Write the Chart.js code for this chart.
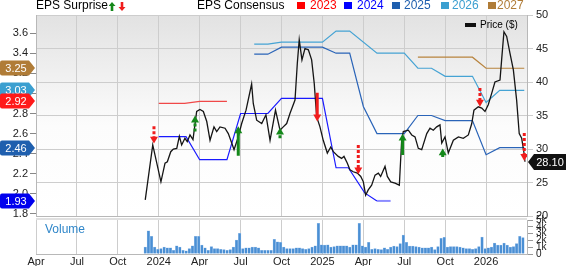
<!DOCTYPE html>
<html lang="en">
<head>
<meta charset="UTF-8">
<title>EPS Surprise &amp; Consensus</title>
<script src="https://cdn.jsdelivr.net/npm/chart.js"></script>
<style>
  body { margin: 0; background: #fff; font-family: "Liberation Sans", Arial, sans-serif; }
  #wrap { position: relative; width: 568px; height: 266px; overflow: hidden; }
  canvas { position: absolute; left: 0; }
  .lg { position: absolute; top: -1px; font-size: 12px; line-height: 12px; white-space: nowrap; }
  .sq { position: absolute; top: 2px; width: 8px; height: 7px; }
</style>
</head>
<body>
<div id="wrap">
  <canvas id="main" width="568" height="226" style="top:0"></canvas>
  <canvas id="vol" width="568" height="55" style="top:211px"></canvas>

  <div class="lg" style="left:36px">EPS Surprise</div>
  <svg style="position:absolute;left:109px;top:2px" width="18" height="9">
    <path d="M3 0 L6.5 4 L4.3 4 L4.3 9 L1.7 9 L1.7 4 L-0.5 4 Z" fill="#14881a"/>
    <path d="M13 9 L16.5 5 L14.3 5 L14.3 0 L11.7 0 L11.7 5 L9.5 5 Z" fill="#f01c1c"/>
  </svg>
  <div class="lg" style="left:197px">EPS Consensus</div>
  <div class="sq" style="left:297px;background:#ff0000"></div><div class="lg" style="left:310px;color:#ff0000">2023</div>
  <div class="sq" style="left:344px;background:#0000ff"></div><div class="lg" style="left:357px;color:#0000ff">2024</div>
  <div class="sq" style="left:392px;background:#1f5fae"></div><div class="lg" style="left:404px;color:#1f5fae">2025</div>
  <div class="sq" style="left:441px;background:#3b9fd0"></div><div class="lg" style="left:452px;color:#3b9fd0">2026</div>
  <div class="sq" style="left:488px;background:#b07c37"></div><div class="lg" style="left:497px;color:#b07c37">2027</div>

  <div style="position:absolute;left:465px;top:23px;width:11px;height:4px;background:#111"></div>
  <div style="position:absolute;left:480px;top:20px;font-size:10px;line-height:10px">Price ($)</div>
  <div style="position:absolute;left:45px;top:223px;font-size:12px;line-height:12px;color:#2f86c9">Volume</div>
</div>

<script>
  // x values are months counted from April 2023 (0 = Apr 2023, 36 = Apr 2026)
  const xTickLabels = ['Apr', 'Jul', 'Oct', '2024', 'Apr', 'Jul', 'Oct', '2025', 'Apr', 'Jul', 'Oct', '2026', ''];
  const epsTicks = [1.8, 2.0, 2.2, 2.4, 2.6, 2.8, 3.0, 3.2, 3.4, 3.6];

  const priceMonth = [8.01, 8.56, 9.16, 9.46, 9.63, 9.88, 10.07, 10.32, 10.51, 10.68, 10.92, 11.09, 11.29, 11.51,
    11.78, 12.02, 12.27, 12.52, 12.76, 13.05, 13.25, 13.49, 13.86, 14.10, 14.35, 14.52, 14.80, 15.08, 15.40,
    15.81, 15.93, 16.18, 16.55, 16.86, 17.16, 17.56, 17.89, 18.13, 18.38, 18.62, 18.99, 19.16, 19.30, 19.50,
    19.72, 19.97, 20.21, 20.40, 20.58, 20.82, 21.06, 21.36, 21.61, 21.80, 22.16, 22.41, 22.58, 22.82, 23.02,
    23.26, 23.56, 23.81, 24.00, 24.17, 24.36, 24.61, 24.86, 25.10, 25.27, 25.59, 25.76, 26.01, 26.32, 26.64,
    26.81, 26.93, 27.30, 27.55, 27.79, 28.03, 28.28, 28.65, 28.89, 29.13, 29.38, 29.62, 29.75, 29.99, 30.23,
    30.60, 30.97, 31.33, 31.70, 31.95, 32.11, 32.43, 32.68, 32.92, 33.16, 33.41, 33.65, 34.02, 34.14, 34.31,
    34.51, 34.75, 35.00, 35.24, 35.43, 35.61, 35.78, 35.85];
  const priceValue = [22.4, 30.6, 25.1, 27.9, 28.1, 29.6, 30.0, 30.1, 31.9, 30.6, 31.6, 31.1, 32.1, 31.4,
    35.6, 35.9, 35.6, 34.1, 31.3, 33.3, 32.6, 33.3, 33.1, 32.3, 30.9, 29.9, 31.6, 33.8, 35.8,
    39.7, 36.8, 34.3, 33.8, 35.1, 31.3, 35.8, 32.8, 33.3, 33.8, 35.3, 37.3, 42.8, 46.3, 43.3,
    45.0, 44.8, 43.3, 39.8, 34.8, 33.3, 31.3, 29.4, 30.3, 29.6, 28.9, 28.6, 28.9, 27.9, 26.9,
    26.6, 26.4, 25.9, 25.1, 23.1, 23.9, 24.6, 26.1, 26.4, 25.9, 27.4, 25.9, 25.1, 24.9, 24.6,
    31.3, 32.6, 32.8, 32.1, 31.8, 30.1, 29.9, 32.3, 33.1, 32.8, 33.3, 33.6, 30.9, 31.8, 29.4,
    31.3, 31.8, 31.6, 32.1, 33.8, 35.8, 36.3, 36.1, 35.6, 36.6, 38.3, 40.0, 40.3, 43.3, 47.5,
    46.8, 44.3, 41.8, 37.3, 32.3, 31.6, 29.4, 28.10];

  const eps2023Month = [9, 10.9, 12, 14];
  const eps2023 = [2.90, 2.90, 2.92, 2.92];
  const eps2024Month = [9, 11, 12, 14, 15, 17, 18, 21, 22, 22.9, 24.1, 25, 26];
  const eps2024 = [2.57, 2.57, 2.34, 2.34, 2.80, 2.80, 2.95, 2.95, 2.26, 2.26, 2.01, 1.93, 1.93];
  const eps2025Month = [16, 17, 18, 21, 22, 23, 24, 25, 27, 28, 29, 30, 32, 33, 34, 35.8];
  const eps2025 = [3.39, 3.39, 3.46, 3.46, 3.40, 3.40, 2.87, 2.60, 2.60, 2.78, 2.78, 2.73, 2.73, 2.39, 2.46, 2.46];
  const eps2026Month = [16, 17, 18, 21, 22, 23, 25, 27, 28, 29, 30, 32, 33, 34, 35.8];
  const eps2026 = [3.49, 3.49, 3.51, 3.51, 3.62, 3.62, 3.40, 3.40, 3.25, 3.25, 3.17, 3.17, 2.91, 3.03, 3.03];
  const eps2027Month = [28, 32, 33, 35.8];
  const eps2027 = [3.36, 3.36, 3.25, 3.25];

  // surprise arrows, drawn on the price axis
  const surpriseMonth = [8.65, 11.66, 14.83, 17.89, 20.62, 23.63, 26.88, 29.82, 32.55, 35.80];
  const surpriseFrom = [33.4, 32.6, 29.0, 31.6, 38.4, 30.6, 29.1, 28.8, 39.1, 32.4];
  const surpriseTo = [31.5, 34.3, 32.7, 32.5, 34.8, 26.9, 31.6, 29.4, 37.0, 28.9];
  const surpriseSolid = [false, false, true, false, true, false, true, false, false, false];

  // weekly volume, thousands
  const volumeK = [1.0, 3.4, 2.6, 1.0, 0.7, 0.8, 1.0, 0.9, 0.9, 0.55, 1.2, 1.0, 0.55, 0.45, 0.8, 1.2, 2.6, 2.6,
    1.3, 0.9, 0.55, 1.1, 0.8, 0.8, 0.7, 0.65, 0.55, 0.65, 1.0, 2.05, 3.05, 0.8, 0.9, 0.9, 1.0, 1.0, 0.9, 0.55,
    0.55, 0.55, 0.55, 2.15, 1.8, 1.7, 1.0,
    0.8, 0.8, 0.8, 0.9, 0.9, 0.8, 0.7, 0.8, 1.0, 1.2, 4.5, 1.35, 1.3, 1.35, 1.0, 1.1, 1.2, 1.2, 1.2, 1.2, 1.0,
    1.35, 1.35, 4.5, 1.2, 1.0, 1.7, 0.7, 0.8, 0.7, 0.65, 0.9, 0.7, 1.0, 1.15, 1.1, 1.55, 2.8, 1.7, 1.15, 1.15,
    1.1, 1.0, 0.9, 0.9, 0.9, 1.0, 0.65, 1.1, 2.3, 2.45, 1.0, 1.1, 1.1, 1.1, 1.0, 0.9, 0.8, 0.8, 0.7, 0.8, 1.1,
    2.5, 0.8, 0.9, 1.0, 1.6, 1.3, 1.3, 1.6, 1.3, 1.0, 1.1, 1.55, 2.6, 2.4];
  const volumeFirstMonth = 8.01;
  const weekMonths = 12 / 52;

  Chart.defaults.font.family = '"Liberation Sans", Arial, sans-serif';

  const epsSeries = [
    { label: '2027', month: eps2027Month, values: eps2027, line: '#b8843e', tag: '#b07c37' },
    { label: '2026', month: eps2026Month, values: eps2026, line: '#45a3d4', tag: '#3b9fd0' },
    { label: '2023', month: eps2023Month, values: eps2023, line: '#f04848', tag: '#ff1a1a' },
    { label: '2025', month: eps2025Month, values: eps2025, line: '#2a64b8', tag: '#1f5fae' },
    { label: '2024', month: eps2024Month, values: eps2024, line: '#1a1aff', tag: '#0000ee' }
  ];

  function xy(xs, ys) {
    return xs.map((x, i) => ({ x: x, y: ys[i] }));
  }

  function arrowSet(up, solid) {
    const pts = [];
    surpriseMonth.forEach((m, i) => {
      if ((surpriseTo[i] > surpriseFrom[i]) !== up || surpriseSolid[i] !== solid) return;
      pts.push({ x: m, y: surpriseFrom[i] }, { x: m, y: surpriseTo[i] }, { x: m, y: null });
    });
    const color = up ? '#14881a' : '#f01c1c';
    return {
      data: pts, yAxisID: 'price', order: 0,
      borderColor: color, borderWidth: 3, borderDash: solid ? [] : [3, 2], borderCapStyle: 'butt',
      pointStyle: 'triangle', pointRotation: up ? 0 : 180,
      pointRadius: ctx => (ctx.dataIndex % 3 === 1 ? 4.6 : 0),
      pointBackgroundColor: color, pointBorderColor: color, pointBorderWidth: 0,
      spanGaps: false
    };
  }

  const datasets = [
    arrowSet(true, true), arrowSet(true, false), arrowSet(false, true), arrowSet(false, false),
    { data: xy(priceMonth, priceValue), yAxisID: 'price', order: 1, borderColor: '#151515', borderWidth: 1.3 }
  ];
  epsSeries.forEach(s => {
    const last = s.values.length - 1;
    datasets.push({
      data: xy(s.month, s.values), yAxisID: 'eps', order: 2, borderColor: s.line, borderWidth: 1.2,
      segment: s.label === '2024'
        ? { borderColor: ctx => (ctx.p1DataIndex === last ? '#8c8cff' : undefined),
            borderWidth: ctx => (ctx.p1DataIndex === last ? 2 : undefined) }
        : {}
    });
  });

  const bgPlugin = {
    id: 'bg',
    beforeDraw(c) {
      const { ctx, chartArea: a } = c;
      const g = ctx.createLinearGradient(0, a.top, 0, a.bottom);
      g.addColorStop(0, '#e2e2e2');
      g.addColorStop(0.55, '#fcfcfc');
      g.addColorStop(1, '#ffffff');
      ctx.save();
      ctx.fillStyle = g;
      ctx.fillRect(a.left, a.top, a.right - a.left, a.bottom - a.top);
      ctx.restore();
    }
  };

  const tagPlugin = {
    id: 'tags',
    afterDraw(c) {
      const ctx = c.ctx;
      ctx.save();
      ctx.font = '11px "Liberation Sans", Arial, sans-serif';
      ctx.textBaseline = 'middle';
      ctx.textAlign = 'center';
      epsSeries.forEach(s => {
        const v = s.values[s.values.length - 1];
        const y = Math.round(c.scales.eps.getPixelForValue(v));
        ctx.fillStyle = s.tag;
        ctx.beginPath();
        ctx.moveTo(2, y - 7.5);
        ctx.lineTo(29, y - 7.5);
        ctx.lineTo(35, y);
        ctx.lineTo(29, y + 7.5);
        ctx.lineTo(2, y + 7.5);
        ctx.quadraticCurveTo(0, y + 7.5, 0, y + 5.5);
        ctx.lineTo(0, y - 5.5);
        ctx.quadraticCurveTo(0, y - 7.5, 2, y - 7.5);
        ctx.fill();
        ctx.fillStyle = '#fff';
        ctx.fillText(v.toFixed(2), 16, y + 0.5);
      });
      const pv = priceValue[priceValue.length - 1];
      const py = Math.round(c.scales.price.getPixelForValue(pv));
      ctx.fillStyle = '#111';
      ctx.beginPath();
      ctx.moveTo(528, py);
      ctx.lineTo(534, py - 8);
      ctx.lineTo(566, py - 8);
      ctx.lineTo(566, py + 8);
      ctx.lineTo(534, py + 8);
      ctx.closePath();
      ctx.fill();
      ctx.fillStyle = '#fff';
      ctx.fillText(pv.toFixed(2), 550, py + 0.5);
      ctx.restore();
    }
  };

  const sepPlugin = {
    id: 'sep',
    beforeDraw(c) {
      const a = c.chartArea;
      c.ctx.save();
      c.ctx.fillStyle = '#e0e0e0';
      c.ctx.fillRect(a.left, a.top - 2, a.right - a.left, 2);
      c.ctx.restore();
    }
  };

  new Chart(document.getElementById('main'), {
    type: 'line',
    data: { datasets: datasets },
    options: {
      responsive: false,
      animation: false,
      events: [],
      layout: { padding: { top: 15, bottom: 10, left: 0, right: 0 } },
      plugins: { legend: { display: false }, tooltip: { enabled: false } },
      elements: { point: { radius: 0 }, line: { tension: 0 } },
      scales: {
        x: {
          type: 'linear', min: 0, max: 36,
          ticks: { display: false, stepSize: 3 },
          grid: { color: '#cdcdcd', drawTicks: false },
          border: { color: '#b8b8b8' },
          afterFit: s => { s.height = 0; }
        },
        eps: {
          position: 'left', min: 1.78, max: 3.78,
          afterBuildTicks: s => { s.ticks = epsTicks.map(v => ({ value: v })); },
          ticks: { autoSkip: false, font: { size: 11 }, color: '#222', padding: 2, callback: v => v.toFixed(1) },
          grid: { drawOnChartArea: false, tickLength: 6, color: '#888' },
          border: { color: '#b8b8b8' },
          afterFit: s => { s.width = 36; }
        },
        price: {
          position: 'right', min: 20, max: 50,
          ticks: { autoSkip: false, stepSize: 5, font: { size: 11 }, color: '#222', padding: 3 },
          grid: { color: '#cdcdcd', tickLength: 6 },
          border: { color: '#b8b8b8' },
          afterFit: s => { s.width = 41; }
        }
      }
    },
    plugins: [bgPlugin, tagPlugin]
  });

  new Chart(document.getElementById('vol'), {
    type: 'bar',
    data: {
      datasets: [{
        data: volumeK.map((v, i) => ({ x: volumeFirstMonth + i * weekMonths, y: v })),
        yAxisID: 'vol',
        backgroundColor: '#4a8fd4',
        borderColor: '#9cc2ea',
        borderWidth: 0.5,
        barThickness: 2.6
      }]
    },
    options: {
      responsive: false,
      animation: false,
      events: [],
      layout: { padding: { top: 7, left: 36, right: 0, bottom: 0 } },
      plugins: { legend: { display: false }, tooltip: { enabled: false } },
      scales: {
        x: {
          type: 'linear', min: 0, max: 36, offset: false,
          ticks: { stepSize: 3, autoSkip: false, maxRotation: 0, font: { size: 11 }, color: '#222', padding: 1,
                   callback: v => xTickLabels[Math.round(v / 3)] ?? '' },
          grid: { color: '#cdcdcd', drawTicks: false, offset: false },
          border: { color: '#b8b8b8' },
          afterFit: s => { s.height = 12; }
        },
        vol: {
          position: 'right', min: 0, max: 5,
          ticks: { autoSkip: false, stepSize: 1, font: { size: 10 }, color: '#222', padding: 3,
                   callback: v => (v === 0 ? '0' : v + 'k') },
          grid: { drawOnChartArea: false, tickLength: 6, color: '#999' },
          border: { color: '#b8b8b8' },
          afterFit: s => { s.width = 41; }
        }
      }
    },
    plugins: [sepPlugin]
  });
</script>
</body>
</html>
